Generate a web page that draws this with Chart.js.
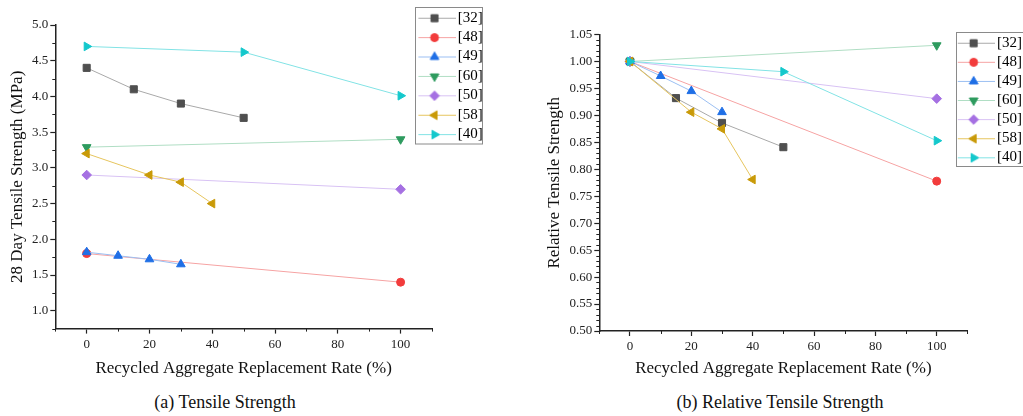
<!DOCTYPE html>
<html>
<head>
<meta charset="utf-8">
<script src="https://cdn.jsdelivr.net/npm/chart.js@4.4.1/dist/chart.umd.min.js"></script>
<style>
  html, body { margin: 0; padding: 0; background: #fff; }
  body { width: 1023px; height: 416px; position: relative; overflow: hidden; font-family: "Liberation Serif", serif; }
  .plot { position: absolute; top: 0; height: 385px; }
  #leftPlot { left: 0; width: 512px; }
  #rightPlot { left: 512px; width: 511px; }
  .caption { position: absolute; top: 392px; font-size: 18px; line-height: 20px; color: #111; text-align: center; }
  #capA { left: 25px; width: 400px; }
  #capB { left: 580px; width: 400px; }
</style>
</head>
<body>
<div class="plot" id="leftPlot"><canvas id="tensileChart"></canvas></div>
<div class="plot" id="rightPlot"><canvas id="relativeChart"></canvas></div>
<div class="caption" id="capA">(a) Tensile Strength</div>
<div class="caption" id="capB">(b) Relative Tensile Strength</div>
<script>
// 데이터
const seriesNames = ["[32]", "[48]", "[49]", "[60]", "[50]", "[58]", "[40]"];

// 재생골재 치환율 (%)
const rate32 = [0, 15, 30, 50];
const rate48 = [0, 100];
const rate49 = [0, 10, 20, 30];
const rate60 = [0, 100];
const rate50 = [0, 100];
const rate58 = [0, 20, 30, 40];
const rate40 = [0, 50, 100];

// (a) 28일 인장강도 (MPa)
const tensile32 = [4.4, 4.1, 3.9, 3.7];
const tensile48 = [1.8, 1.4];
const tensile49 = [1.82, 1.77, 1.72, 1.65];
const tensile60 = [3.29, 3.4];
const tensile50 = [2.9, 2.7];
const tensile58 = [3.2, 2.9, 2.8, 2.5];
const tensile40 = [4.7, 4.62, 4.01];

// (b) 상대 인장강도
const relative32 = [1.0, 0.932, 0.886, 0.841];
const relative48 = [1.0, 0.778];
const relative49 = [1.0, 0.973, 0.945, 0.906];
const relative60 = [1.0, 1.03];
const relative50 = [1.0, 0.931];
const relative58 = [1.0, 0.906, 0.875, 0.781];
const relative40 = [1.0, 0.981, 0.853];

// 축 눈금
const rateTicks = [0, 20, 40, 60, 80, 100];
const rateMinorTicks = [-10, 10, 30, 50, 70, 90, 110];
const tensileTicks = [1.0, 1.5, 2.0, 2.5, 3.0, 3.5, 4.0, 4.5, 5.0];
const tensileMinorTicks = [0.75, 1.25, 1.75, 2.25, 2.75, 3.25, 3.75, 4.25, 4.75];
const relativeTicks = [0.50, 0.55, 0.60, 0.65, 0.70, 0.75, 0.80, 0.85, 0.90, 0.95, 1.00, 1.05];

// 스타일
const markerColors = ["#4f4f4f", "#f23c3c", "#1f6fe6", "#2e9b5f", "#a570e2", "#c99a08", "#14c8cc"];
const lineColors = ["#a9a9a9", "#f6a3a3", "#9bbff2", "#b0dec4", "#d8c2f4", "#e6c55e", "#82e3e5"];
const markerStyles = ["rect", "circle", "triangle", "triangle", "rectRot", "triangle", "triangle"];
const markerRotations = [0, 0, 0, 180, 0, 270, 90];
const markerSizes = [5, 4, 5, 5, 4.8, 5, 5];

const serif = "'Liberation Serif', 'Times New Roman', serif";
const rateLists = [rate32, rate48, rate49, rate60, rate50, rate58, rate40];

// 범례용 선+마커 이미지
function makeSwatch(i) {
    const c = document.createElement("canvas");
    c.width = 38;
    c.height = 12;
    const g = c.getContext("2d");
    g.strokeStyle = lineColors[i];
    g.lineWidth = 1;
    g.beginPath();
    g.moveTo(0, 6.5);
    g.lineTo(38, 6.5);
    g.stroke();
    g.fillStyle = markerColors[i];
    g.strokeStyle = markerColors[i];
    Chart.helpers.drawPoint(g, {
        pointStyle: markerStyles[i],
        rotation: markerRotations[i],
        radius: markerSizes[i],
        borderWidth: 1
    }, 17, 6.5);
    return c;
}
const swatches = seriesNames.map((n, i) => makeSwatch(i));

function buildDatasets(valueLists) {
    return seriesNames.map((name, i) => ({
        label: name,
        data: rateLists[i].map((r, k) => ({ x: r, y: valueLists[i][k] })),
        borderColor: lineColors[i],
        borderWidth: 1,
        backgroundColor: markerColors[i],
        pointBackgroundColor: markerColors[i],
        pointBorderColor: markerColors[i],
        pointBorderWidth: 1,
        pointStyle: markerStyles[i],
        pointRotation: markerRotations[i],
        pointRadius: markerSizes[i],
        tension: 0,
        order: seriesNames.length - i // 뒤쪽 시리즈가 위에 그려지도록
    }));
}

// 범례 위치 고정 + 테두리
const legendPlace = {
    id: "legendPlace",
    afterLayout(chart, args, o) {
        const lg = chart.legend;
        lg.left = o.x; lg.top = o.y;
        lg.width = o.w; lg.height = o.h;
        lg.right = o.x + o.w; lg.bottom = o.y + o.h;
    },
    afterDraw(chart, args, o) {
        const ctx = chart.ctx;
        ctx.save();
        ctx.strokeStyle = "#8a8a8a";
        ctx.lineWidth = 1;
        ctx.strokeRect(o.bx, o.by, o.bw, o.bh);
        ctx.restore();
    }
};

// 보조 눈금
const minorTicks = {
    id: "minorTicks",
    afterDraw(chart, args, o) {
        const ctx = chart.ctx;
        const xs = chart.scales.x;
        const ys = chart.scales.y;
        ctx.save();
        ctx.strokeStyle = "#222";
        ctx.lineWidth = 1;
        o.x.forEach(v => {
            const px = Math.round(xs.getPixelForValue(v)) + 0.5;
            ctx.beginPath();
            ctx.moveTo(px, xs.top);
            ctx.lineTo(px, xs.top + o.len);
            ctx.stroke();
        });
        o.y.forEach(v => {
            const py = Math.round(ys.getPixelForValue(v)) + 0.5;
            ctx.beginPath();
            ctx.moveTo(ys.right - o.len, py);
            ctx.lineTo(ys.right, py);
            ctx.stroke();
        });
        ctx.restore();
    }
};

function makeOptions(cfg) {
    return {
        responsive: true,
        maintainAspectRatio: false,
        animation: false,
        events: [],
        layout: { padding: cfg.padding },
        scales: {
            x: {
                type: "linear",
                min: -10,
                max: 110,
                afterBuildTicks: a => { a.ticks = rateTicks.map(v => ({ value: v })); },
                afterFit: s => { s.height = cfg.xHeight; },
                border: { color: "#222", width: 1.5 },
                grid: { drawOnChartArea: false, tickLength: 5, tickColor: "#222", tickWidth: 1.2 },
                ticks: {
                    autoSkip: false, maxRotation: 0, padding: 3, color: "#222",
                    font: { family: serif, size: 13 },
                    callback: v => String(v)
                },
                title: {
                    display: true,
                    text: "Recycled Aggregate Replacement Rate (%)",
                    color: "#111",
                    font: { family: serif, size: 17 },
                    padding: { top: 0, bottom: cfg.xTitlePad }
                }
            },
            y: {
                type: "linear",
                min: cfg.yMin,
                max: cfg.yMax,
                afterBuildTicks: a => { a.ticks = cfg.yTicks.map(v => ({ value: v })); },
                afterFit: s => { s.width = cfg.yWidth; },
                border: { color: "#222", width: 1.5 },
                grid: { drawOnChartArea: false, tickLength: 5, tickColor: "#222", tickWidth: 1.2 },
                ticks: {
                    autoSkip: false, padding: 2, color: "#222",
                    font: { family: serif, size: 13 },
                    callback: v => v.toFixed(cfg.yDigits)
                },
                title: {
                    display: true,
                    text: cfg.yTitle,
                    color: "#111",
                    font: { family: serif, size: 17 },
                    padding: { top: cfg.yTitlePad, bottom: 0 }
                }
            }
        },
        plugins: {
            tooltip: { enabled: false },
            legend: {
                position: "chartArea",
                align: "start",
                labels: {
                    usePointStyle: true,
                    pointStyleWidth: 27.5,
                    padding: cfg.legendPad,
                    color: "#111",
                    font: { family: serif, size: 15 },
                    generateLabels: chart => chart.data.datasets.map((ds, i) => ({
                        text: ds.label,
                        pointStyle: swatches[i],
                        rotation: 0,
                        fillStyle: markerColors[i],
                        strokeStyle: markerColors[i],
                        lineWidth: 0,
                        hidden: false,
                        datasetIndex: i
                    }))
                }
            },
            legendPlace: cfg.legendBox,
            minorTicks: { x: rateMinorTicks, y: cfg.yMinor, len: 3 }
        }
    };
}

// 상대강도 보조 눈금 (0.01 간격)
const relativeMinorTicks = [];
for (let k = 51; k < 105; k++) {
    if (k % 5 !== 0) relativeMinorTicks.push(k / 100);
}

new Chart(document.getElementById("tensileChart"), {
    type: "line",
    data: { datasets: buildDatasets([tensile32, tensile48, tensile49, tensile60, tensile50, tensile58, tensile40]) },
    options: makeOptions({
        padding: { top: 25, right: 80, bottom: 0, left: 0 },
        xHeight: 56.4,
        xTitlePad: 6,
        yMin: 0.75,
        yMax: 5.0,
        yTicks: tensileTicks,
        yMinor: tensileMinorTicks,
        yDigits: 1,
        yWidth: 55.3,
        yTitle: "28 Day Tensile Strength (MPa)",
        yTitlePad: 7.3,
        legendPad: 4.4,
        legendBox: { x: 418.4, y: 5.8, w: 93, h: 150, bx: 415.5, by: 7.5, bw: 67, bh: 136.5 }
    }),
    plugins: [legendPlace, minorTicks]
});

new Chart(document.getElementById("relativeChart"), {
    type: "line",
    data: { datasets: buildDatasets([relative32, relative48, relative49, relative60, relative50, relative58, relative40]) },
    options: makeOptions({
        padding: { top: 34.5, right: 55.6, bottom: 0, left: 0 },
        xHeight: 54,
        xTitlePad: 6,
        yMin: 0.5,
        yMax: 1.05,
        yTicks: relativeTicks,
        yMinor: relativeMinorTicks,
        yDigits: 2,
        yWidth: 87.3,
        yTitle: "Relative Tensile Strength",
        yTitlePad: 32.8,
        legendPad: 4.1,
        legendBox: { x: 445.8, y: 31.1, w: 65.2, h: 150, bx: 444.5, by: 32.5, bw: 80, bh: 134 }
    }),
    plugins: [legendPlace, minorTicks]
});
</script>
</body>
</html>
